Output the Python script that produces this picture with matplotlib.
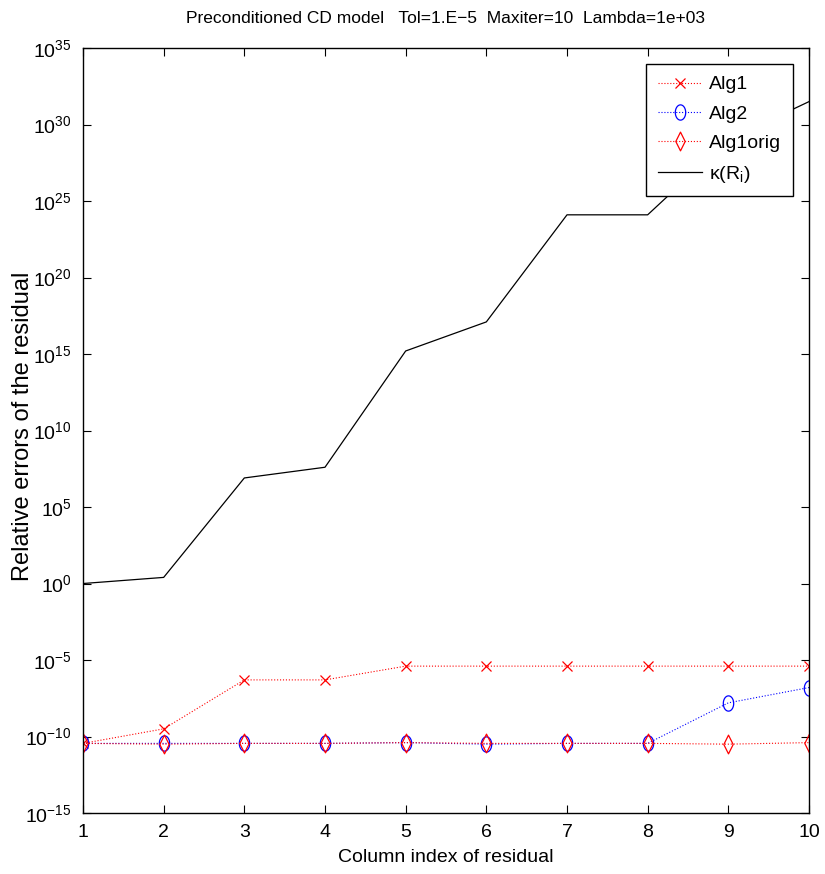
import matplotlib
matplotlib.use('Agg')

import numpy as np
import matplotlib.pyplot as plt
from matplotlib.path import Path
from matplotlib.ticker import LogFormatterSciNotation, NullLocator

# ---------------------------------------------------------------
# data (log10 values)
# ---------------------------------------------------------------
cols = [1, 2, 3, 4, 5, 6, 7, 8, 9, 10]
alg1_log = [-10.45, -9.5, -6.3, -6.3, -5.4, -5.4, -5.4, -5.4, -5.4, -5.4]
alg2_log = [-10.45, -10.45, -10.45, -10.45, -10.4, -10.5, -10.45, -10.45, -7.8, -6.8]
alg1orig_log = [-10.45, -10.5, -10.45, -10.45, -10.4, -10.45, -10.45, -10.45, -10.5, -10.4]
kappa_log = [0.0, 0.4, 6.9, 7.6, 15.2, 17.1, 24.1, 24.1, 29.0, 31.5]

alg1 = 10.0 ** np.array(alg1_log)
alg2 = 10.0 ** np.array(alg2_log)
alg1orig = 10.0 ** np.array(alg1orig_log)
kappa = 10.0 ** np.array(kappa_log)

FONT = ['Liberation Sans', 'DejaVu Sans']
plt.rcParams['font.family'] = FONT
plt.rcParams['mathtext.fontset'] = 'custom'
plt.rcParams['mathtext.rm'] = 'Liberation Sans'
plt.rcParams['mathtext.it'] = 'Liberation Sans:italic'

# MATLAB-ish markers, a bit tall (the source picture is stretched)
t = np.linspace(0, 2 * np.pi, 41)
ellipse = Path(np.column_stack([0.68 * np.cos(t), np.sin(t)]))
diamond = Path([(0, -1), (0.5, 0), (0, 1), (-0.5, 0), (0, -1)], closed=True)

fig = plt.figure(figsize=(8.25, 8.74), dpi=100, facecolor='white')
ax = fig.add_axes([0.1006, 0.0698, 0.88, 0.8752])

ax.plot(cols, alg1, color='red', ls=':', lw=0.8, marker='x', ms=7, mew=0.9, label='Alg1')
ax.plot(cols, alg2, color='blue', ls=':', lw=0.8, marker=ellipse, ms=11, mfc='none',
        mew=0.9, label='Alg2')
ax.plot(cols, alg1orig, color='red', ls=':', lw=0.8, marker=diamond, ms=13.5, mfc='none',
        mew=0.9, label='Alg1orig')
ax.plot(cols, kappa, color='black', ls='-', lw=0.9, label='\u03ba(R$_\\mathrm{i}$)')

ax.set_yscale('log')
ax.set_xlim(1, 10)
ax.set_ylim(1e-15, 1e35)
ax.set_xticks(cols)
ax.set_yticks([10.0 ** k for k in range(-15, 36, 5)])
ax.yaxis.set_major_formatter(LogFormatterSciNotation())
ax.yaxis.set_minor_locator(NullLocator())

ax.tick_params(direction='in', length=6, width=0.8, top=True, right=True,
               labelsize=14, pad=8)
for sp in ax.spines.values():
    sp.set_linewidth(1.0)

ax.set_title('Preconditioned CD model   Tol=1.E\u22125  Maxiter=10  Lambda=1e+03',
             fontsize=12.5, pad=18)
ax.set_xlabel('Column index of residual', fontsize=14, labelpad=6)
ax.set_ylabel('Relative errors of the residual', fontsize=17)
ax.yaxis.set_label_coords(-0.068, 0.505)

leg = ax.legend(loc='upper right', bbox_to_anchor=(0.978, 0.979), borderaxespad=0,
                fancybox=False, edgecolor='black', framealpha=1, fontsize=14,
                handlelength=2.3, handletextpad=0.35, labelspacing=0.6, borderpad=0.6)
leg.get_frame().set_linewidth(1.0)

fig.savefig('out.png', dpi=100, facecolor='white')
